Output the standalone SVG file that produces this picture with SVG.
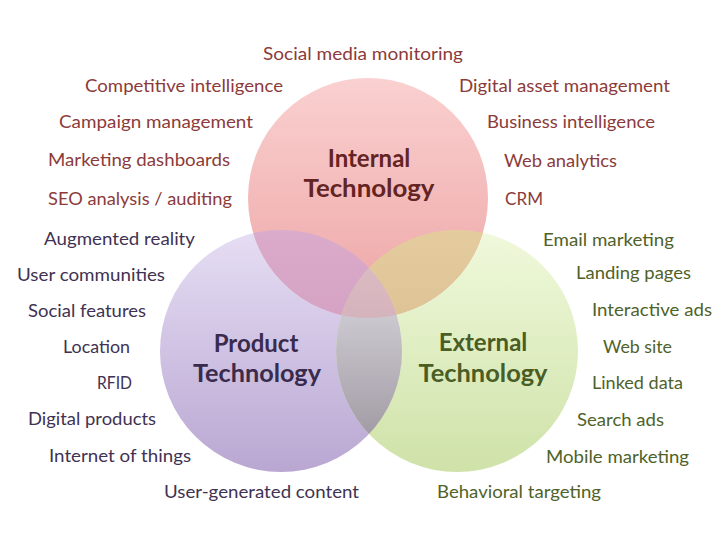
<svg xmlns="http://www.w3.org/2000/svg" width="728" height="546" viewBox="0 0 728 546">
<defs>
<linearGradient id="gRed" x1="0" y1="0" x2="0" y2="1">
<stop offset="0" stop-color="#fad0d0"/>
<stop offset="1" stop-color="#eda5a5"/>
</linearGradient>
<linearGradient id="gPurple" x1="0" y1="0" x2="0" y2="1">
<stop offset="0" stop-color="#e6def4"/>
<stop offset="1" stop-color="#b9a7d2"/>
</linearGradient>
<linearGradient id="gGreen" x1="0" y1="0" x2="0" y2="1">
<stop offset="0" stop-color="#f0f9dc"/>
<stop offset="1" stop-color="#cfe2a8"/>
</linearGradient>
<linearGradient id="gRP" gradientUnits="userSpaceOnUse" x1="0" y1="230" x2="0" y2="318">
<stop offset="0" stop-color="#dbabcb"/>
<stop offset="1" stop-color="#d5a2c4"/>
</linearGradient>
<linearGradient id="gRG" gradientUnits="userSpaceOnUse" x1="0" y1="230" x2="0" y2="318">
<stop offset="0" stop-color="#e5cc9f"/>
<stop offset="1" stop-color="#ddc395"/>
</linearGradient>
<linearGradient id="gPG" gradientUnits="userSpaceOnUse" x1="0" y1="318" x2="0" y2="442">
<stop offset="0" stop-color="#cac7ce"/>
<stop offset="1" stop-color="#a099a3"/>
</linearGradient>
<linearGradient id="gRPG" gradientUnits="userSpaceOnUse" x1="0" y1="262" x2="0" y2="318">
<stop offset="0" stop-color="#dbbbc2"/>
<stop offset="1" stop-color="#d5b3bc"/>
</linearGradient>
<clipPath id="clipR"><circle cx="368" cy="198" r="120"/></clipPath>
<clipPath id="clipP"><circle cx="281" cy="351" r="121"/></clipPath>
<clipPath id="clipG"><circle cx="457" cy="351" r="121"/></clipPath>
</defs>
<style>
text{font-family:Lato,"Open Sans","Liberation Sans",sans-serif;font-size:18px}
.t{font-weight:bold;font-size:24px;text-anchor:middle}
.r{fill:#8b3b3a}
.p{fill:#403252}
.g{fill:#4f6229}
.rt{fill:#632423}
.pt{fill:#3a2b4d}
.gt{fill:#4a5d25}
</style>
<rect width="728" height="546" fill="#ffffff"/>
<g id="circles">
<circle id="product-circle" cx="281" cy="351" r="121" fill="url(#gPurple)"/>
<circle id="external-circle" cx="457" cy="351" r="121" fill="url(#gGreen)"/>
<circle id="internal-circle" cx="368" cy="198" r="120" fill="url(#gRed)"/>
<circle id="overlap-internal-product" cx="281" cy="351" r="121" clip-path="url(#clipR)" fill="url(#gRP)"/>
<circle id="overlap-internal-external" cx="457" cy="351" r="121" clip-path="url(#clipR)" fill="url(#gRG)"/>
<circle id="overlap-product-external" cx="457" cy="351" r="121" clip-path="url(#clipP)" fill="url(#gPG)"/>
<g id="overlap-all" clip-path="url(#clipG)">
<circle cx="368" cy="198" r="120" clip-path="url(#clipP)" fill="url(#gRPG)"/>
</g>
</g>
<g id="internal">
<text class="t rt" x="369" y="167">Internal</text>
<text class="t rt" x="369" y="197" textLength="131" lengthAdjust="spacingAndGlyphs">Technology</text>
</g>
<g id="product">
<text class="t pt" x="256" y="352">Product</text>
<text class="t pt" x="257" y="382" textLength="128" lengthAdjust="spacingAndGlyphs">Technology</text>
</g>
<g id="external">
<text class="t gt" x="483" y="351">External</text>
<text class="t gt" x="483" y="382" textLength="129" lengthAdjust="spacingAndGlyphs">Technology</text>
</g>
<g id="internal-items" class="r">
<text x="263" y="60" textLength="200" lengthAdjust="spacingAndGlyphs">Social media monitoring</text>
<text x="85" y="92" textLength="198" lengthAdjust="spacingAndGlyphs">Competitive intelligence</text>
<text x="59" y="128" textLength="194" lengthAdjust="spacingAndGlyphs">Campaign management</text>
<text x="48" y="166" textLength="182" lengthAdjust="spacingAndGlyphs">Marketing dashboards</text>
<text x="48" y="205" textLength="184" lengthAdjust="spacingAndGlyphs">SEO analysis / auditing</text>
<text x="459" y="92" textLength="211" lengthAdjust="spacingAndGlyphs">Digital asset management</text>
<text x="487" y="128" textLength="168" lengthAdjust="spacingAndGlyphs">Business intelligence</text>
<text x="504" y="167" textLength="113" lengthAdjust="spacingAndGlyphs">Web analytics</text>
<text x="505" y="205" textLength="38" lengthAdjust="spacingAndGlyphs">CRM</text>
</g>
<g id="product-items" class="p">
<text x="44" y="245" textLength="151" lengthAdjust="spacingAndGlyphs">Augmented reality</text>
<text x="17" y="281" textLength="148" lengthAdjust="spacingAndGlyphs">User communities</text>
<text x="28" y="317" textLength="118" lengthAdjust="spacingAndGlyphs">Social features</text>
<text x="63" y="353" textLength="67" lengthAdjust="spacingAndGlyphs">Location</text>
<text x="97" y="389" textLength="35" lengthAdjust="spacingAndGlyphs">RFID</text>
<text x="28" y="425" textLength="128" lengthAdjust="spacingAndGlyphs">Digital products</text>
<text x="49" y="462" textLength="142" lengthAdjust="spacingAndGlyphs">Internet of things</text>
<text x="164" y="498" textLength="195" lengthAdjust="spacingAndGlyphs">User-generated content</text>
</g>
<g id="external-items" class="g">
<text x="543" y="246" textLength="131" lengthAdjust="spacingAndGlyphs">Email marketing</text>
<text x="576" y="279" textLength="115" lengthAdjust="spacingAndGlyphs">Landing pages</text>
<text x="592" y="316" textLength="120" lengthAdjust="spacingAndGlyphs">Interactive ads</text>
<text x="603" y="353" textLength="69" lengthAdjust="spacingAndGlyphs">Web site</text>
<text x="592" y="389" textLength="91" lengthAdjust="spacingAndGlyphs">Linked data</text>
<text x="577" y="426" textLength="87" lengthAdjust="spacingAndGlyphs">Search ads</text>
<text x="546" y="463" textLength="143" lengthAdjust="spacingAndGlyphs">Mobile marketing</text>
<text x="437" y="498" textLength="164" lengthAdjust="spacingAndGlyphs">Behavioral targeting</text>
</g>
</svg>
